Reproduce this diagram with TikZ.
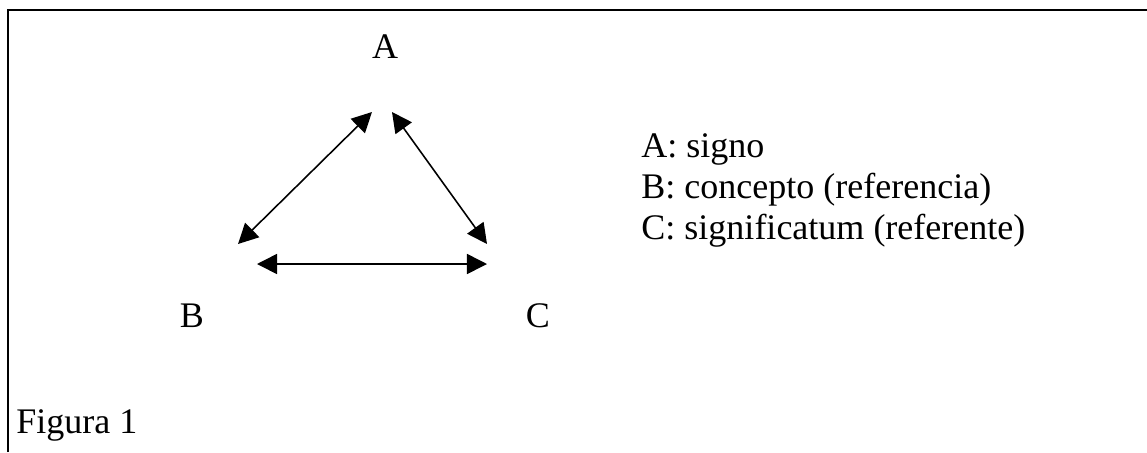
\documentclass[tikz,border=0pt]{standalone}
\usepackage{fontspec}
\setmainfont{Liberation Serif}
\usetikzlibrary{arrows.meta}

\tikzset{
  vertex/.style={anchor=base,inner sep=0pt,font=\fontsize{16}{19}\selectfont},
  legend/.style={anchor=base west,inner sep=0pt,font=\fontsize{16}{19}\selectfont},
  link/.style={line width=0.7pt,{Triangle[length=8.9pt,width=8.9pt]}-{Triangle[length=8.9pt,width=8.9pt]}}
}

\begin{document}
\begin{tikzpicture}[x=0.4444pt,y=-0.4444pt]
\useasboundingbox (0,0) rectangle (1147,452);
\draw[line width=0.9pt] (8,452) -- (8,10) -- (1147,10);
% vertices
\node[vertex] (A) at (385,58) {A};
\node[vertex] (B) at (192,327) {B};
\node[vertex] (C) at (538,327) {C};
% arrow ends
\coordinate (ab) at (238,244);
\coordinate (ba) at (372,112);
\coordinate (ac) at (392,112);
\coordinate (ca) at (487,244);
\coordinate (bc) at (257,264);
\coordinate (cb) at (487,264);
\draw[link] (ab) -- (ba);
\draw[link] (ac) -- (ca);
\draw[link] (bc) -- (cb);
% legend
\node[legend] (la) at (641,157) {A: signo};
\node[legend] (lb) at (641,198) {B: concepto (referencia)};
\node[legend] (lc) at (641,239) {C: significatum (referente)};
\node[legend] (fig) at (16,433) {Figura 1};
\end{tikzpicture}
\end{document}
